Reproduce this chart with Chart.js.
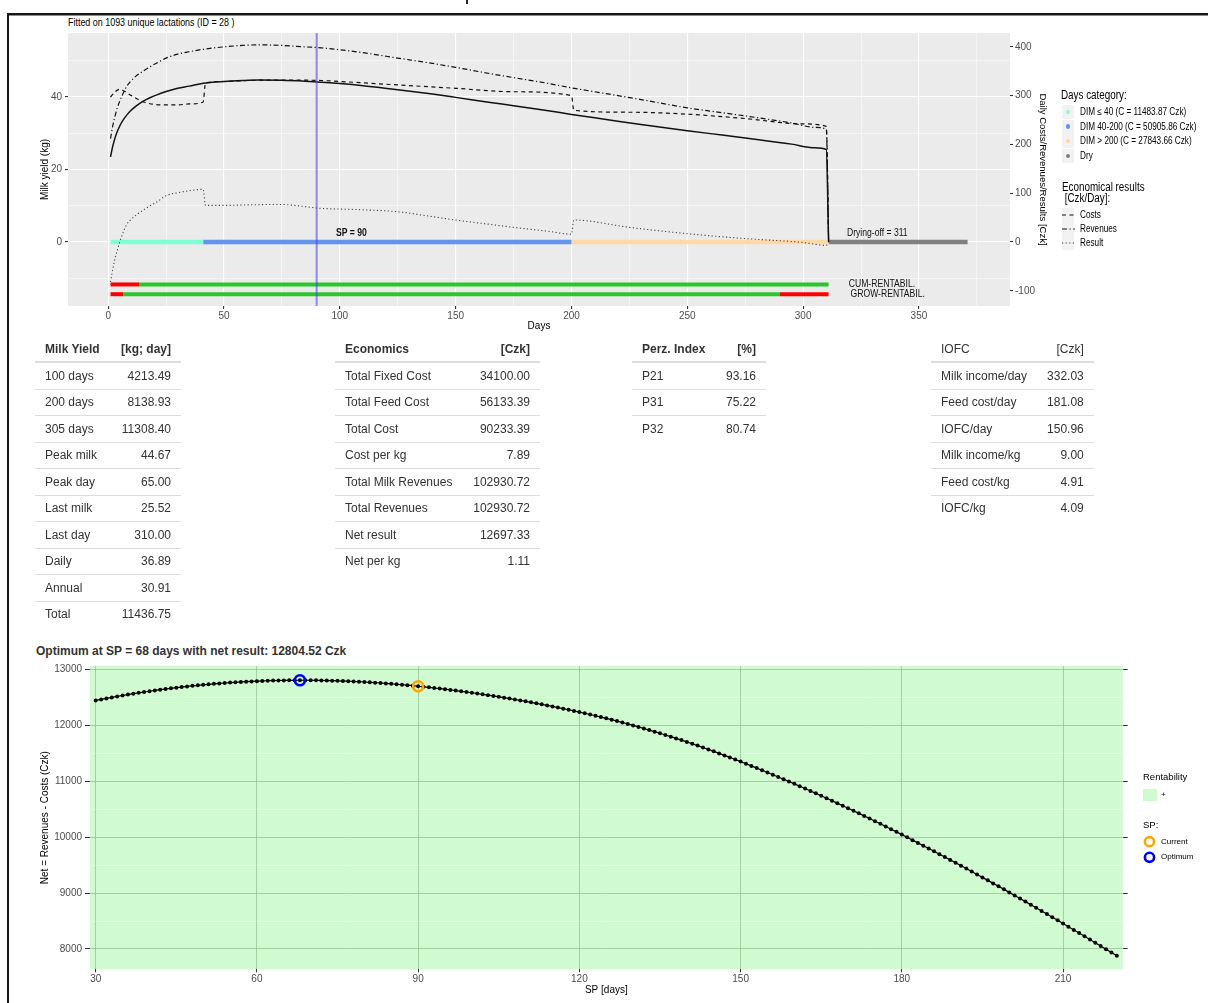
<!DOCTYPE html>
<html><head><meta charset="utf-8">
<script src="https://cdn.jsdelivr.net/npm/chart.js@4.4.1/dist/chart.umd.min.js"></script>
<style>
html,body{margin:0;padding:0;background:#fff;}
body{width:1208px;height:1003px;position:relative;overflow:hidden;font-family:"Liberation Sans",Arial,sans-serif;}
.abs{position:absolute;white-space:nowrap;}
canvas{position:absolute;left:0;}
table{position:absolute;border-collapse:collapse;font-size:12px;color:#333;table-layout:auto;}
th,td{padding:0 10px;white-space:nowrap;}
th{height:24px;border-bottom:2px solid #ddd;text-align:left;font-weight:bold;}
td{height:25.5px;border-top:1px solid #ddd;}
.r{text-align:right;}
.key{position:absolute;background:#F2F2F2;}
.lt{position:absolute;line-height:1;transform:translateY(-50%);white-space:nowrap;color:#000;}
.nt{position:absolute;line-height:1;transform:translateY(-50%) scaleX(0.82);transform-origin:0 50%;white-space:nowrap;color:#000;}
</style>
</head>
<body>
<div class="abs" style="left:466px;top:0;width:2px;height:4px;background:#222;"></div>
<div class="abs" style="left:7px;top:13px;width:1201px;height:2px;background:#161616;"></div>
<div class="abs" style="left:9px;top:15px;width:1199px;height:1px;background:#7590b0;"></div>
<div class="abs" style="left:7px;top:13px;width:2px;height:990px;background:#161616;"></div>

<div class="nt" style="left:68px;top:22px;font-size:10.5px;transform:translateY(-50%) scaleX(0.85);">Fitted on 1093 unique lactations (ID = 28 )</div>

<canvas id="top" width="1208" height="345" style="top:0;width:1208px;height:345px;"></canvas>

<!-- legend top -->
<div class="nt" style="left:1061px;top:95px;font-size:12px;">Days category:</div>
<div id="catLegend"></div>
<div class="nt" style="left:1062px;top:187px;font-size:12px;">Economical results</div>
<div class="nt" style="left:1062px;top:198px;font-size:12px;">&nbsp;[Czk/Day]:</div>
<div id="ecoLegend"></div>

<div id="tables"></div>

<div class="abs lt" style="left:36px;top:651px;font-size:12px;font-weight:bold;color:#333;">Optimum at SP = 68 days with net result: 12804.52 Czk</div>
<canvas id="bottom" width="1208" height="363" style="top:640px;width:1208px;height:363px;"></canvas>

<!-- legend bottom -->
<div class="abs lt" style="left:1143px;top:777px;font-size:9.5px;">Rentability</div>
<div class="abs" style="left:1143px;top:789px;width:14px;height:12px;background:#D0FBD0;"></div>
<div class="abs lt" style="left:1161px;top:795px;font-size:8px;">+</div>
<div class="abs lt" style="left:1143px;top:825px;font-size:9.5px;">SP:</div>
<svg class="abs" style="left:1140px;top:833px;" width="20" height="34">
  <circle cx="9.5" cy="8.7" r="4.6" fill="none" stroke="#FFA500" stroke-width="2.6"/>
  <circle cx="9.5" cy="24.3" r="4.6" fill="none" stroke="#0000FF" stroke-width="2.6"/>
</svg>
<div class="abs lt" style="left:1161px;top:842px;font-size:8px;">Current</div>
<div class="abs lt" style="left:1161px;top:857px;font-size:8px;">Optimum</div>

<script>
// ================= DATA =================
// --- top chart: daily curves ---
const milkDays = [1,2,3,4,5,6,8,10,12,15,18,21,25,30,35,41,50,58,65,75,85,92,100,110,125,140,150,165,175,190,200,215,230,250,265,280,295,305,310,311];
const milkKg   = [23.5,26.5,28.8,30.6,32.0,33.2,35.0,36.4,37.5,38.8,39.8,40.6,41.5,42.4,43.0,43.8,44.3,44.55,44.67,44.6,44.35,44.1,43.7,43.1,42.0,40.8,39.9,38.5,37.6,36.2,35.2,33.8,32.4,30.7,29.5,28.3,27.0,26.0,25.5,0];

const costDays = [1,3,5,7,10,13,16,20,25,30,35,41,42,50,60,70,80,92,100,125,150,175,200,201,225,250,275,300,310,311];
const costCzk  = [297,308,313,309,300,292,286,282,281,281,283,287,326,329,331,332,332,331,329,322,315,308,300,270,266,262,253,242,237,0];

const revDays = [1,2,3,4,6,8,10,12,15,18,21,25,30,35,41,50,58,65,75,85,92,100,110,125,140,150,165,175,190,200,215,230,250,265,280,295,305,310,311];
const revCzk  = [212,239,259,276,300,319,331,340,350,359,367,377,385,390,395,400,403,404,403,400,398,394,388,377,366,358,345,337,325,316,304,292,275,265,255,244,235,231,0];

const resDays = [1,2,3,4,5,6,8,10,12,15,18,21,25,30,35,41,42,50,60,74,92,110,125,140,150,165,175,190,200,201,225,250,275,300,310,311];
const resCzk  = [-82,-55,-33,-16,0,14,36,47,55,65,74,82,95,101,105,108,75,75,76,77,69,66,62,52,45,36,30,22,16,45,30,17,7,-1,-7,0];

// --- days categories ---
const catNames = ['DIM \u2264 40 (C = 11483.87 Czk)', 'DIM 40-200 (C = 50905.86 Czk)', 'DIM > 200 (C = 27843.66 Czk)', 'Dry'];
const catStart = [1, 41, 200, 311];
const catEnd   = [41, 200, 311, 371];

// --- rentability (boundaries in days and sign of each piece) ---
const cumRentDays  = [1, 13.5, 311];
const cumRentSign  = ['-', '+'];
const growRentDays = [1, 6.5, 290, 311];
const growRentSign = ['-', '+', '-'];

const spCurrent = 90;
const dryingOff = 311;

// --- economic legend ---
const ecoNames = ['Costs', 'Revenues', 'Result'];

// --- tables ---
const milkRows = ['100 days','200 days','305 days','Peak milk','Peak day','Last milk','Last day','Daily','Annual','Total'];
const milkVals = ['4213.49','8138.93','11308.40','44.67','65.00','25.52','310.00','36.89','30.91','11436.75'];
const econRows = ['Total Fixed Cost','Total Feed Cost','Total Cost','Cost per kg','Total Milk Revenues','Total Revenues','Net result','Net per kg'];
const econVals = ['34100.00','56133.39','90233.39','7.89','102930.72','102930.72','12697.33','1.11'];
const perzRows = ['P21','P31','P32'];
const perzVals = ['93.16','75.22','80.74'];
const iofcRows = ['Milk income/day','Feed cost/day','IOFC/day','Milk income/kg','Feed cost/kg','IOFC/kg'];
const iofcVals = ['332.03','181.08','150.96','9.00','4.91','4.09'];

// --- bottom chart: net result by SP ---
const spFirstDay = 30;
const netCzk = [
 12443,12462,12480,12498,12515,12532,12548,12564,12579,12594,12608,12622,12635,12648,12660,12672,12683,12694,12704,12714,
 12723,12732,12740,12748,12755,12762,12768,12774,12779,12784,12788,12792,12795,12798,12800,12802,12803,12804,12804.52,
 12804,12804,12803,12801,12799,12797,12794,12790,12787,12782,12778,12773,12767,12761,12755,12748,12740,12733,12724,12716,12707,12697.33,
 12687,12677,12666,12655,12644,12632,12620,12607,12594,12581,12567,12553,12538,12524,12508,12493,12477,12460,12444,12427,
 12409,12391,12373,12355,12336,12316,12297,12277,12256,12235,
 12214,12192,12169,12146,12123,12099,12074,12049,12023,11997,11970,11942,11914,11885,11856,11826,11796,11765,11734,11702,
 11669,11636,11602,11568,11533,11497,11461,11425,11388,11350,
 11312,11273,11234,11195,11155,11115,11075,11034,10993,10952,10910,10868,10825,10782,10739,10695,10651,10607,10562,10517,
 10471,10425,10379,10332,10285,10238,10190,10142,10094,10045,
 9996,9946,9897,9847,9797,9746,9695,9644,9593,9542,9490,9438,9385,9333,9280,9227,9173,9120,9066,9012,
 8957,8902,8847,8792,8737,8681,8625,8568,8512,8455,
 8398,8341,8284,8226,8169,8111,8054,7996,7938,7880
];
const optimumSP = 68, optimumNet = 12804.52;
const currentSP = 90, currentNet = 12697.33;
const netTickValues = [8000,8500,9000,9500,10000,10500,11000,11500,12000,12500,13000];

// ================= STYLES =================
const REG = '"Liberation Sans", Arial, sans-serif';
const catColors = ['#7FFFD4', '#6495ED', '#FFD8A8', '#808080'];
const rentColor = {'+': '#2BC62B', '-': '#FF0000'};
const rentLevel = {cum: -87, grow: -107};
const ecoStyles = [
  {dash: [4, 3.5], width: 1.2, color: '#111'},
  {dash: [5, 2.5, 1.2, 2.5], width: 1.2, color: '#111'},
  {dash: [1.2, 2.4], width: 1.1, color: '#444'}
];

const pts = (xs, ys) => xs.map((x, i) => ({x: x, y: ys[i]}));

// ================= PLUGINS =================
const panelBg = {
  id: 'panelBg',
  beforeDraw(chart, args, opts) {
    const {ctx, chartArea: a} = chart;
    ctx.save(); ctx.fillStyle = opts.color;
    ctx.fillRect(a.left, a.top, a.right - a.left, a.bottom - a.top);
    ctx.restore();
  }
};
const textNotes = {
  id: 'textNotes',
  afterDatasetsDraw(chart, args, opts) {
    const {ctx} = chart;
    const xs = chart.scales.x, ys = chart.scales.y2;
    (opts.items || []).forEach(it => {
      ctx.save();
      ctx.textAlign = 'center'; ctx.textBaseline = 'middle'; ctx.fillStyle = '#111';
      ctx.font = (it.bold ? 'bold ' : '') + it.size + 'px ' + REG;
      ctx.translate(xs.getPixelForValue(it.x), ys.getPixelForValue(it.y));
      ctx.scale(0.82, 1);
      ctx.fillText(it.text, 0, 0);
      ctx.restore();
    });
  }
};

// ================= TOP CHART =================
const topDatasets = [];
topDatasets.push({ // SP vertical line
  data: [{x: spCurrent, y: -17.66}, {x: spCurrent, y: 57.66}], yAxisID: 'y',
  borderColor: 'rgba(70,70,255,0.6)', borderWidth: 2, pointRadius: 0, order: 0
});
topDatasets.push({
  data: pts(milkDays, milkKg), yAxisID: 'y', borderColor: '#111', borderWidth: 1.5,
  pointRadius: 0, cubicInterpolationMode: 'monotone', order: 1
});
[[costDays, costCzk], [revDays, revCzk], [resDays, resCzk]].forEach((s, i) => {
  topDatasets.push({
    data: pts(s[0], s[1]), yAxisID: 'y2', borderColor: ecoStyles[i].color,
    borderWidth: ecoStyles[i].width, borderDash: ecoStyles[i].dash, pointRadius: 0,
    cubicInterpolationMode: 'monotone', order: 2 + i
  });
});
catStart.forEach((s, i) => {
  topDatasets.push({
    data: [{x: s, y: 0}, {x: catEnd[i], y: 0}], yAxisID: 'y2', borderColor: catColors[i],
    borderWidth: 4.5, pointRadius: 0, order: 10 + i
  });
});
function rentSegments(days, signs, level) {
  signs.forEach((sg, i) => {
    topDatasets.push({
      data: [{x: days[i], y: level}, {x: days[i + 1], y: level}], yAxisID: 'y2',
      borderColor: rentColor[sg], borderWidth: 4, pointRadius: 0, order: 20 + i
    });
  });
}
rentSegments(cumRentDays, cumRentSign, rentLevel.cum);
rentSegments(growRentDays, growRentSign, rentLevel.grow);

const tickFontTop = {family: REG, size: 10};
new Chart(document.getElementById('top'), {
  type: 'line',
  data: {datasets: topDatasets},
  options: {
    responsive: false, animation: false, devicePixelRatio: 1,
    layout: {padding: {left: 36, right: 156, top: 33, bottom: 9}},
    plugins: {
      legend: {display: false}, tooltip: {enabled: false},
      panelBg: {color: '#EBEBEB'},
      textNotes: {items: [
        {text: 'SP = ' + spCurrent, x: 105, y: 18, size: 10.5, bold: true},
        {text: 'Drying-off = ' + dryingOff, x: 332, y: 18, size: 10.5},
        {text: 'CUM-RENTABIL.', x: 334, y: rentLevel.cum, size: 10.5},
        {text: 'GROW-RENTABIL.', x: 336.5, y: rentLevel.grow, size: 10.5}
      ]}
    },
    scales: {
      x: {
        type: 'linear', min: -17.35, max: 389.3,
        afterFit: s => { s.height = 30; },
        border: {display: false},
        grid: {
          color: '#FFFFFF',
          lineWidth: c => (c.tick && c.tick.value % 50 === 0) ? 1.1 : 0.5,
          tickColor: c => (c.tick && c.tick.value % 50 === 0) ? '#333' : 'rgba(0,0,0,0)',
          tickLength: 3, tickWidth: 1.1
        },
        ticks: {stepSize: 25, includeBounds: false, autoSkip: false, maxRotation: 0, padding: 1,
          color: '#4D4D4D', font: tickFontTop,
          callback: v => (v % 50 === 0 ? String(v) : '')},
        title: {display: true, text: 'Days', color: '#000', font: {family: REG, size: 10}, padding: {top: 0, bottom: 4}}
      },
      y: {
        position: 'left', min: -17.66, max: 57.66,
        afterFit: s => { s.width = 32; },
        border: {display: false},
        grid: {
          color: '#FFFFFF',
          lineWidth: c => (c.tick && c.tick.value % 20 === 0) ? 1.1 : 0.5,
          tickColor: c => (c.tick && c.tick.value % 20 === 0) ? '#333' : 'rgba(0,0,0,0)',
          tickLength: 3, tickWidth: 1.1
        },
        ticks: {stepSize: 10, includeBounds: false, autoSkip: false, padding: 3,
          color: '#4D4D4D', font: tickFontTop,
          callback: v => (v % 20 === 0 ? String(v) : '')},
        title: {display: true, text: 'Milk yield (kg)', color: '#000', font: {family: REG, size: 10}, padding: {top: 3, bottom: 4}}
      },
      y2: {
        position: 'right', min: -131.2, max: 428.4,
        afterFit: s => { s.width = 42; },
        border: {display: false},
        grid: {drawOnChartArea: false, tickColor: '#333', tickLength: 3, tickWidth: 1.1},
        ticks: {stepSize: 100, includeBounds: false, autoSkip: false, padding: 2,
          color: '#4D4D4D', font: tickFontTop},
        title: {display: true, text: 'Daily Costs/Revenues/Results [Czk]', color: '#000', font: {family: REG, size: 9.5}, padding: {top: 4, bottom: 4}}
      }
    }
  },
  plugins: [panelBg, textNotes]
});

// ================= TOP LEGEND =================
(function () {
  const wrap = document.getElementById('catLegend');
  const ys = [111.7, 126.5, 141.2, 155.9];
  let h = '';
  catNames.forEach((n, i) => {
    h += `<div class="key" style="left:1062px;top:${ys[i] - 7}px;width:12px;height:14px;"></div>`;
    h += `<div class="abs" style="left:${1068 - 2.2}px;top:${ys[i] - 2.2}px;width:4.4px;height:4.4px;border-radius:50%;background:${catColors[i]};"></div>`;
    h += `<div class="nt" style="left:1080px;top:${ys[i]}px;font-size:10px;">${n}</div>`;
  });
  wrap.innerHTML = h;
  const eco = document.getElementById('ecoLegend');
  const ey = [215, 229, 243.3];
  let e = '';
  ecoNames.forEach((n, i) => {
    const st = ecoStyles[i];
    e += `<div class="key" style="left:1062px;top:${ey[i] - 7}px;width:12px;height:14px;"></div>`;
    e += `<svg class="abs" style="left:1062px;top:${ey[i] - 7}px;" width="13" height="14"><line x1="0" y1="7" x2="13" y2="7" stroke="${st.color}" stroke-width="${st.width}" stroke-dasharray="${st.dash.join(',')}"/></svg>`;
    e += `<div class="nt" style="left:1080px;top:${ey[i]}px;font-size:10px;">${n}</div>`;
  });
  eco.innerHTML = e;
})();

// ================= TABLES =================
(function () {
  const specs = [
    {left: 35, width: 146, head: ['Milk Yield', '[kg; day]'], bold: true, rows: milkRows, vals: milkVals},
    {left: 335, width: 205, head: ['Economics', '[Czk]'], bold: true, rows: econRows, vals: econVals},
    {left: 632, width: 134, head: ['Perz. Index', '[%]'], bold: true, rows: perzRows, vals: perzVals},
    {left: 931, width: 162, head: ['IOFC', '[Czk]'], bold: false, rows: iofcRows, vals: iofcVals}
  ];
  let h = '';
  specs.forEach(s => {
    const fw = s.bold ? 'bold' : 'normal';
    h += `<table style="left:${s.left}px;top:337px;width:${s.width}px;"><thead><tr>` +
      `<th style="font-weight:${fw}">${s.head[0]}</th><th class="r" style="font-weight:${fw}">${s.head[1]}</th></tr></thead><tbody>`;
    s.rows.forEach((r, i) => { h += `<tr><td>${r}</td><td class="r">${s.vals[i]}</td></tr>`; });
    h += '</tbody></table>';
  });
  document.getElementById('tables').innerHTML = h;
})();

// ================= BOTTOM CHART =================
const netPts = netCzk.map((v, i) => ({x: spFirstDay + i, y: v}));
const tickFontBot = {family: REG, size: 10};
const setNetTicks = s => { s.ticks = netTickValues.map(v => ({value: v})); };
new Chart(document.getElementById('bottom'), {
  type: 'line',
  data: {datasets: [
    {data: [{x: optimumSP, y: optimumNet}], showLine: false, pointRadius: 5, pointBorderWidth: 2.6,
      pointBorderColor: '#0000FF', pointBackgroundColor: 'rgba(0,0,0,0)', order: 0},
    {data: [{x: currentSP, y: currentNet}], showLine: false, pointRadius: 5, pointBorderWidth: 2.6,
      pointBorderColor: '#FFA500', pointBackgroundColor: 'rgba(0,0,0,0)', order: 1},
    {data: netPts, borderColor: '#000', borderWidth: 1.2, pointRadius: 2, pointBorderWidth: 0,
      pointBackgroundColor: '#000', order: 2}
  ]},
  options: {
    responsive: false, animation: false, devicePixelRatio: 1,
    layout: {padding: {left: 35, right: 77.3, top: 26, bottom: 3}},
    plugins: {legend: {display: false}, tooltip: {enabled: false}, panelBg: {color: '#D0FBD0'}},
    scales: {
      x: {
        type: 'linear', min: 28.94, max: 221.1,
        afterFit: s => { s.height = 30.7; },
        border: {display: false},
        grid: {color: 'rgba(130,180,130,0.6)', lineWidth: 1, tickColor: '#333', tickLength: 3},
        ticks: {stepSize: 30, includeBounds: false, autoSkip: false, maxRotation: 0, padding: 1,
          color: '#4D4D4D', font: tickFontBot},
        title: {display: true, text: 'SP [days]', color: '#000', font: {family: REG, size: 10}, padding: {top: 0, bottom: 4}}
      },
      y: {
        position: 'left', min: 7637, max: 13059,
        afterBuildTicks: setNetTicks,
        afterFit: s => { s.width = 55; },
        border: {display: false},
        grid: {
          color: c => (c.tick && c.tick.value % 1000 === 0) ? 'rgba(130,180,130,0.6)' : 'rgba(255,255,255,0.6)',
          lineWidth: c => (c.tick && c.tick.value % 1000 === 0) ? 1 : 0.6,
          tickColor: c => (c.tick && c.tick.value % 1000 === 0) ? '#333' : 'rgba(0,0,0,0)',
          tickLength: 5
        },
        ticks: {autoSkip: false, padding: 3,
          color: '#4D4D4D', font: tickFontBot,
          callback: v => (v % 1000 === 0 ? String(v) : '')},
        title: {display: true, text: 'Net = Revenues - Costs (Czk)', color: '#000', font: {family: REG, size: 10}, padding: {top: 4, bottom: 4}}
      },
      y2: {
        position: 'right', min: 7637, max: 13059,
        afterBuildTicks: setNetTicks,
        afterFit: s => { s.width = 8; },
        border: {display: false},
        grid: {drawOnChartArea: false, tickLength: 5,
          tickColor: c => (c.tick && c.tick.value % 1000 === 0) ? '#333' : 'rgba(0,0,0,0)'},
        ticks: {display: false}
      }
    }
  },
  plugins: [panelBg]
});
</script>
</body></html>
